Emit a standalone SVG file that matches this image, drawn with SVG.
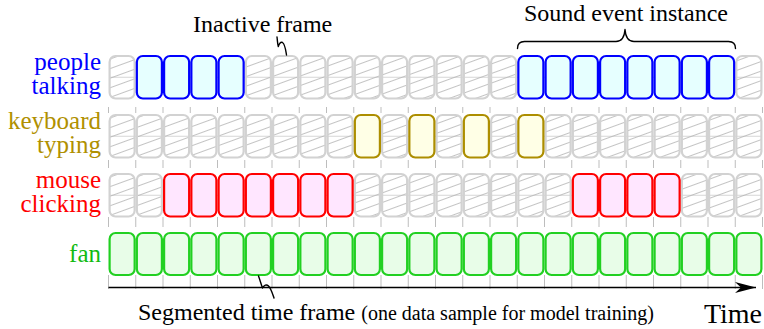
<svg xmlns="http://www.w3.org/2000/svg" width="764" height="329" viewBox="0 0 764 329">
<defs>
<pattern id="hatch" patternUnits="userSpaceOnUse" width="9" height="9" patternTransform="rotate(-20)">
<line x1="-1" y1="4.5" x2="10" y2="4.5" stroke="#b4b4b4" stroke-width="0.8"/>
</pattern>
<marker id="stealth" markerUnits="userSpaceOnUse" viewBox="-22 -7 24 14" refX="0" refY="0" markerWidth="24" markerHeight="14" orient="auto">
<path d="M0,0 L-21,-5.5 L-15,0 L-21,5.5 Z" fill="#000"/>
</marker>
<style>
text { font-family: "Liberation Serif", "Times New Roman", serif; }
.lab { font-size: 25px; text-anchor: end; }
.note { font-size: 24px; fill: #000; }
.grid { stroke: #bdbdbd; stroke-width: 1; stroke-dasharray: 6 47 8 49 10 48 14; }
.mid { stroke: #d6d6d6; stroke-width: 1; }
rect { stroke-width: 2.2; }
.off { fill: url(#hatch); stroke: #d2d2d2; }
.blue { fill: #e6ffff; stroke: #0000ff; }
.yel { fill: #ffffe6; stroke: #ad8e00; }
.red { fill: #ffe6ff; stroke: #ff0000; }
.grn { fill: #e8fde8; stroke: #22d022; }
.conn { fill: none; stroke: #000; stroke-width: 1.4; stroke-linecap: round; stroke-linejoin: round; }
</style>
</defs>
<rect width="764" height="329" fill="#fff" stroke="none"/>

<g id="grid">
<line class="grid" x1="108.5" y1="107" x2="108.5" y2="289"/>
<line class="grid" x1="135.75" y1="107" x2="135.75" y2="289"/>
<line class="grid" x1="163" y1="107" x2="163" y2="289"/>
<line class="grid" x1="190.25" y1="107" x2="190.25" y2="289"/>
<line class="grid" x1="217.5" y1="107" x2="217.5" y2="289"/>
<line class="grid" x1="244.75" y1="107" x2="244.75" y2="289"/>
<line class="grid" x1="272" y1="107" x2="272" y2="289"/>
<line class="grid" x1="299.25" y1="107" x2="299.25" y2="289"/>
<line class="grid" x1="326.5" y1="107" x2="326.5" y2="289"/>
<line class="grid" x1="353.75" y1="107" x2="353.75" y2="289"/>
<line class="grid" x1="381" y1="107" x2="381" y2="289"/>
<line class="grid" x1="408.25" y1="107" x2="408.25" y2="289"/>
<line class="grid" x1="435.5" y1="107" x2="435.5" y2="289"/>
<line class="grid" x1="462.75" y1="107" x2="462.75" y2="289"/>
<line class="grid" x1="490" y1="107" x2="490" y2="289"/>
<line class="grid" x1="517.25" y1="107" x2="517.25" y2="289"/>
<line class="grid" x1="544.5" y1="107" x2="544.5" y2="289"/>
<line class="grid" x1="571.75" y1="107" x2="571.75" y2="289"/>
<line class="grid" x1="599" y1="107" x2="599" y2="289"/>
<line class="grid" x1="626.25" y1="107" x2="626.25" y2="289"/>
<line class="grid" x1="653.5" y1="107" x2="653.5" y2="289"/>
<line class="grid" x1="680.75" y1="107" x2="680.75" y2="289"/>
<line class="grid" x1="708" y1="107" x2="708" y2="289"/>
<line class="grid" x1="735.25" y1="107" x2="735.25" y2="289"/>
<line class="grid" x1="762.5" y1="107" x2="762.5" y2="289"/>
<line class="mid" x1="109" y1="77.25" x2="762" y2="77.25"/>
<line class="mid" x1="109" y1="136.25" x2="762" y2="136.25"/>
<line class="mid" x1="109" y1="195.25" x2="762" y2="195.25"/>
</g>

<g id="row-people">
<text class="lab" fill="#0000ff" x="101" y="70">people</text>
<text class="lab" fill="#0000ff" x="101" y="94">talking</text>
<g transform="translate(0,56)">
<rect class="off" x="109.6" width="25.05" height="42.5" rx="6"/>
<rect class="off" x="245.85" width="25.05" height="42.5" rx="6"/>
<rect class="off" x="273.1" width="25.05" height="42.5" rx="6"/>
<rect class="off" x="300.35" width="25.05" height="42.5" rx="6"/>
<rect class="off" x="327.6" width="25.05" height="42.5" rx="6"/>
<rect class="off" x="354.85" width="25.05" height="42.5" rx="6"/>
<rect class="off" x="382.1" width="25.05" height="42.5" rx="6"/>
<rect class="off" x="409.35" width="25.05" height="42.5" rx="6"/>
<rect class="off" x="436.6" width="25.05" height="42.5" rx="6"/>
<rect class="off" x="463.85" width="25.05" height="42.5" rx="6"/>
<rect class="off" x="491.1" width="25.05" height="42.5" rx="6"/>
<rect class="off" x="736.35" width="25.05" height="42.5" rx="6"/>
<rect class="blue" x="136.85" width="25.05" height="42.5" rx="6"/>
<rect class="blue" x="164.1" width="25.05" height="42.5" rx="6"/>
<rect class="blue" x="191.35" width="25.05" height="42.5" rx="6"/>
<rect class="blue" x="218.6" width="25.05" height="42.5" rx="6"/>
<rect class="blue" x="518.35" width="25.05" height="42.5" rx="6"/>
<rect class="blue" x="545.6" width="25.05" height="42.5" rx="6"/>
<rect class="blue" x="572.85" width="25.05" height="42.5" rx="6"/>
<rect class="blue" x="600.1" width="25.05" height="42.5" rx="6"/>
<rect class="blue" x="627.35" width="25.05" height="42.5" rx="6"/>
<rect class="blue" x="654.6" width="25.05" height="42.5" rx="6"/>
<rect class="blue" x="681.85" width="25.05" height="42.5" rx="6"/>
<rect class="blue" x="709.1" width="25.05" height="42.5" rx="6"/>
</g>
</g>

<g id="row-keyboard">
<text class="lab" fill="#b09000" x="101" y="129">keyboard</text>
<text class="lab" fill="#b09000" x="101" y="153">typing</text>
<g transform="translate(0,115)">
<rect class="off" x="109.6" width="25.05" height="42.5" rx="6"/>
<rect class="off" x="136.85" width="25.05" height="42.5" rx="6"/>
<rect class="off" x="164.1" width="25.05" height="42.5" rx="6"/>
<rect class="off" x="191.35" width="25.05" height="42.5" rx="6"/>
<rect class="off" x="218.6" width="25.05" height="42.5" rx="6"/>
<rect class="off" x="245.85" width="25.05" height="42.5" rx="6"/>
<rect class="off" x="273.1" width="25.05" height="42.5" rx="6"/>
<rect class="off" x="300.35" width="25.05" height="42.5" rx="6"/>
<rect class="off" x="327.6" width="25.05" height="42.5" rx="6"/>
<rect class="off" x="382.1" width="25.05" height="42.5" rx="6"/>
<rect class="off" x="436.6" width="25.05" height="42.5" rx="6"/>
<rect class="off" x="491.1" width="25.05" height="42.5" rx="6"/>
<rect class="off" x="545.6" width="25.05" height="42.5" rx="6"/>
<rect class="off" x="572.85" width="25.05" height="42.5" rx="6"/>
<rect class="off" x="600.1" width="25.05" height="42.5" rx="6"/>
<rect class="off" x="627.35" width="25.05" height="42.5" rx="6"/>
<rect class="off" x="654.6" width="25.05" height="42.5" rx="6"/>
<rect class="off" x="681.85" width="25.05" height="42.5" rx="6"/>
<rect class="off" x="709.1" width="25.05" height="42.5" rx="6"/>
<rect class="off" x="736.35" width="25.05" height="42.5" rx="6"/>
<rect class="yel" x="354.85" width="25.05" height="42.5" rx="6"/>
<rect class="yel" x="409.35" width="25.05" height="42.5" rx="6"/>
<rect class="yel" x="463.85" width="25.05" height="42.5" rx="6"/>
<rect class="yel" x="518.35" width="25.05" height="42.5" rx="6"/>
</g>
</g>

<g id="row-mouse">
<text class="lab" fill="#ff0000" x="101" y="188">mouse</text>
<text class="lab" fill="#ff0000" x="101" y="212">clicking</text>
<g transform="translate(0,174)">
<rect class="off" x="109.6" width="25.05" height="42.5" rx="6"/>
<rect class="off" x="136.85" width="25.05" height="42.5" rx="6"/>
<rect class="off" x="354.85" width="25.05" height="42.5" rx="6"/>
<rect class="off" x="382.1" width="25.05" height="42.5" rx="6"/>
<rect class="off" x="409.35" width="25.05" height="42.5" rx="6"/>
<rect class="off" x="436.6" width="25.05" height="42.5" rx="6"/>
<rect class="off" x="463.85" width="25.05" height="42.5" rx="6"/>
<rect class="off" x="491.1" width="25.05" height="42.5" rx="6"/>
<rect class="off" x="518.35" width="25.05" height="42.5" rx="6"/>
<rect class="off" x="545.6" width="25.05" height="42.5" rx="6"/>
<rect class="off" x="681.85" width="25.05" height="42.5" rx="6"/>
<rect class="off" x="709.1" width="25.05" height="42.5" rx="6"/>
<rect class="off" x="736.35" width="25.05" height="42.5" rx="6"/>
<rect class="red" x="164.1" width="25.05" height="42.5" rx="6"/>
<rect class="red" x="191.35" width="25.05" height="42.5" rx="6"/>
<rect class="red" x="218.6" width="25.05" height="42.5" rx="6"/>
<rect class="red" x="245.85" width="25.05" height="42.5" rx="6"/>
<rect class="red" x="273.1" width="25.05" height="42.5" rx="6"/>
<rect class="red" x="300.35" width="25.05" height="42.5" rx="6"/>
<rect class="red" x="327.6" width="25.05" height="42.5" rx="6"/>
<rect class="red" x="572.85" width="25.05" height="42.5" rx="6"/>
<rect class="red" x="600.1" width="25.05" height="42.5" rx="6"/>
<rect class="red" x="627.35" width="25.05" height="42.5" rx="6"/>
<rect class="red" x="654.6" width="25.05" height="42.5" rx="6"/>
</g>
</g>

<g id="row-fan">
<text class="lab" fill="#11bb11" x="101" y="262">fan</text>
<g transform="translate(0,233)">
<rect class="grn" x="109.6" width="25.05" height="42" rx="6"/>
<rect class="grn" x="136.85" width="25.05" height="42" rx="6"/>
<rect class="grn" x="164.1" width="25.05" height="42" rx="6"/>
<rect class="grn" x="191.35" width="25.05" height="42" rx="6"/>
<rect class="grn" x="218.6" width="25.05" height="42" rx="6"/>
<rect class="grn" x="245.85" width="25.05" height="42" rx="6"/>
<rect class="grn" x="273.1" width="25.05" height="42" rx="6"/>
<rect class="grn" x="300.35" width="25.05" height="42" rx="6"/>
<rect class="grn" x="327.6" width="25.05" height="42" rx="6"/>
<rect class="grn" x="354.85" width="25.05" height="42" rx="6"/>
<rect class="grn" x="382.1" width="25.05" height="42" rx="6"/>
<rect class="grn" x="409.35" width="25.05" height="42" rx="6"/>
<rect class="grn" x="436.6" width="25.05" height="42" rx="6"/>
<rect class="grn" x="463.85" width="25.05" height="42" rx="6"/>
<rect class="grn" x="491.1" width="25.05" height="42" rx="6"/>
<rect class="grn" x="518.35" width="25.05" height="42" rx="6"/>
<rect class="grn" x="545.6" width="25.05" height="42" rx="6"/>
<rect class="grn" x="572.85" width="25.05" height="42" rx="6"/>
<rect class="grn" x="600.1" width="25.05" height="42" rx="6"/>
<rect class="grn" x="627.35" width="25.05" height="42" rx="6"/>
<rect class="grn" x="654.6" width="25.05" height="42" rx="6"/>
<rect class="grn" x="681.85" width="25.05" height="42" rx="6"/>
<rect class="grn" x="709.1" width="25.05" height="42" rx="6"/>
<rect class="grn" x="736.35" width="25.05" height="42" rx="6"/>
</g>
</g>

<g id="label-inactive"><text class="note" x="193" y="32">Inactive frame</text></g>
<g id="label-sound"><text class="note" x="626" y="21" text-anchor="middle">Sound event instance</text></g>
<g id="label-segmented"><text class="note" x="138" y="320">Segmented time frame <tspan font-size="20">(one data sample for model training)</tspan></text></g>
<g id="label-time"><text x="762" y="323" font-size="28" text-anchor="end">Time</text></g>

<g id="connectors">
<path class="conn" stroke-width="1" d="M277,37 C277.5,41 277.5,44 278.3,46.5 C279,44 280.5,41.5 282.5,42.5 C285,44 285.5,49 286.5,55"/>
<path class="conn" stroke-width="1" d="M258.5,276 C260,280 261,284 262.5,288 C264,285 266.5,284 268.5,286 C271,288.5 272,292 274,298"/>
<path class="conn" d="M517.5,48.5 C517.5,43.5 519.5,41.5 524.5,41.5 L616,41.5 C622,41.5 624.5,37 625,29.5 C625.5,37 628,41.5 634,41.5 L728.5,41.5 C733.5,41.5 735.5,43.5 735.5,48.5"/>
<line x1="108.5" y1="287.5" x2="756" y2="287.5" stroke="#000" stroke-width="1.6" marker-end="url(#stealth)"/>
</g>
</svg>
